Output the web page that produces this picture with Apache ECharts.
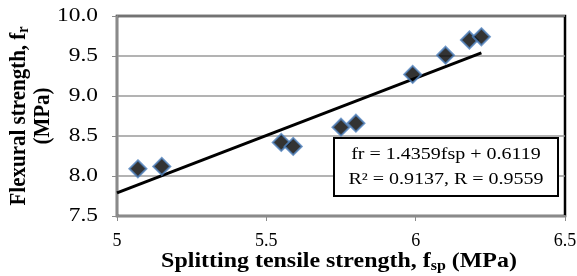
<!DOCTYPE html>
<html>
<head>
<meta charset="utf-8">
<script src="https://cdn.jsdelivr.net/npm/echarts@6/dist/echarts.min.js"></script>
<style>
  html, body { margin: 0; padding: 0; background: #fff; }
  #main { width: 577px; height: 276px; }
</style>
</head>
<body>
<div id="main"></div>
<script>
// 数据：劈裂抗拉强度 vs 抗折强度
var fsp = [5.07, 5.15, 5.55, 5.59, 5.75, 5.80, 5.99, 6.10, 6.18, 6.22];
var fr = [8.09, 8.12, 8.42, 8.37, 8.61, 8.66, 9.27, 9.51, 9.70, 9.74];
// 趋势线两端点
var trendX = [5, 6.22];
var trendY = [7.79, 9.54];
// 刻度标签
var xTicks = ['5', '5.5', '6', '6.5'];
var yTicks = ['7.5', '8.0', '8.5', '9.0', '9.5', '10.0'];
var eqLines = ['fr = 1.4359fsp + 0.6119', 'R² = 0.9137, R = 0.9559'];

var serif = 'Liberation Serif, Times New Roman, serif';
var stretch = 1.3; // 原图横向拉伸

var chart = echarts.init(document.getElementById('main'));

var option = {
  animation: false,
  grid: {
    left: 117,
    right: 12,
    top: 16,
    bottom: 60,
    show: true,
    borderColor: '#000',
    borderWidth: 2.5
  },
  xAxis: {
    type: 'value',
    min: 5,
    max: 6.5,
    interval: 0.5,
    axisLine: { show: true, onZero: false, lineStyle: { color: '#8a8a8a', width: 2 } },
    axisTick: { show: true, length: 5, lineStyle: { color: '#8a8a8a' } },
    splitLine: { show: false },
    axisLabel: { show: false }
  },
  yAxis: {
    type: 'value',
    min: 7.5,
    max: 10,
    interval: 0.5,
    axisLine: { show: true, onZero: false, lineStyle: { color: '#8a8a8a', width: 2 } },
    axisTick: { show: true, length: 5, lineStyle: { color: '#8a8a8a' } },
    splitLine: { show: true, lineStyle: { color: '#9a9a9a', width: 1.5 } },
    axisLabel: { show: false }
  },
  series: [
    {
      type: 'line',
      data: trendX.map(function (x, i) { return [x, trendY[i]]; }),
      symbol: 'none',
      lineStyle: { color: '#000', width: 3 },
      z: 2
    },
    {
      type: 'scatter',
      data: fsp.map(function (x, i) { return [x, fr[i]]; }),
      symbol: 'diamond',
      symbolSize: 17,
      itemStyle: { color: '#000', borderColor: '#4f81bd', borderWidth: 2 },
      z: 3
    }
  ]
};

chart.setOption(option);

// 刻度标签、轴标题、公式框
var labelStyle = { fontFamily: serif, fontSize: 18, fill: '#000' };
var titleRich = {
  b: { fontFamily: serif, fontSize: 21, fontWeight: 'bold', fill: '#000' },
  sub: { fontFamily: serif, fontSize: 14, fontWeight: 'bold', fill: '#000', padding: [9, 0, 0, 0] }
};
var g = [];

xTicks.forEach(function (t) {
  var p = chart.convertToPixel({ gridIndex: 0 }, [parseFloat(t), 7.5]);
  g.push({
    type: 'text', x: p[0], y: p[1] + 25, z: 20,
    style: Object.assign({ text: t, align: 'center', verticalAlign: 'middle' }, labelStyle)
  });
});
yTicks.forEach(function (t) {
  var p = chart.convertToPixel({ gridIndex: 0 }, [5, parseFloat(t)]);
  g.push({
    type: 'text', x: p[0] - 19, y: p[1], scaleX: stretch, z: 20,
    style: Object.assign({ text: t, align: 'right', verticalAlign: 'middle' }, labelStyle)
  });
});

g.push({
  type: 'text', x: 339, y: 262, scaleX: 1.14, z: 20,
  style: {
    text: '{b|Splitting tensile strength, f}{sub|sp}{b| (MPa)}',
    rich: titleRich, align: 'center', verticalAlign: 'middle'
  }
});
g.push({
  type: 'text', x: 19, y: 116, rotation: Math.PI / 2, scaleY: 1.14, z: 20,
  style: {
    text: '{b|Flexural strength, f}{sub|r}',
    rich: titleRich, align: 'center', verticalAlign: 'middle'
  }
});
g.push({
  type: 'text', x: 43, y: 116, rotation: Math.PI / 2, scaleY: 1.14, z: 20,
  style: {
    text: '{b|(MPa)}',
    rich: titleRich, align: 'center', verticalAlign: 'middle'
  }
});

g.push({
  type: 'rect', z: 10,
  shape: { x: 334, y: 138, width: 224, height: 58 },
  style: { fill: '#fff', stroke: '#000', lineWidth: 2 }
});
g.push({
  type: 'text', x: 446, y: 167, scaleX: 1.25, z: 11,
  style: {
    text: eqLines.join('\n'),
    fontFamily: serif, fontSize: 16, lineHeight: 25, fill: '#000',
    align: 'center', verticalAlign: 'middle'
  }
});

chart.setOption({ graphic: g });
</script>
</body>
</html>
